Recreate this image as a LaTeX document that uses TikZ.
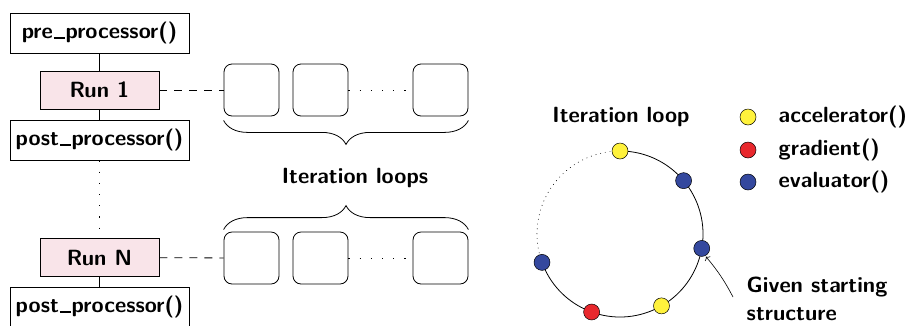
\documentclass[tikz,border=0pt]{standalone}
\usepackage{fix-cm}
\usetikzlibrary{decorations.pathreplacing,arrows.meta}
\definecolor{runpink}{RGB}{249,228,233}
\definecolor{dotyellow}{RGB}{255,242,60}
\definecolor{dotred}{RGB}{232,40,45}
\definecolor{dotblue}{RGB}{52,72,158}
\newcommand{\usc}{\kern0.04em\rule{0.5em}{0.09em}\kern0.04em}

\begin{document}
\begin{tikzpicture}[x=1pt, y=-1pt, line width=0.8pt,
    font={\fontsize{22}{28}\selectfont\sffamily\bfseries},
    stage/.style={draw, minimum width=179pt, minimum height=40pt, inner sep=0pt},
    run/.style={draw, fill=runpink, minimum width=119pt, minimum height=38pt, inner sep=0pt},
    loopbox/.style={draw, rounded corners=8pt, minimum width=55pt, minimum height=52pt, inner sep=0pt},
    dot/.style={circle, draw, line width=0.5pt, minimum size=16pt, inner sep=0pt},
    sparse/.style={dash pattern=on 1.2pt off 10pt},
    link/.style={dash pattern=on 8pt off 7pt},
    bracedown/.style={decorate, decoration={brace, mirror, amplitude=24pt}},
    braceup/.style={decorate, decoration={brace, amplitude=24pt}}]
    \useasboundingbox (0,0) rectangle (912,325);

    % Runs
    \node[stage] (pre) at (99.5,33) {pre\usc processor()};
    \node[run] (run1) at (99.5,90) {Run 1};
    \node[stage] (post1) at (99.5,140) {post\usc processor()};
    \node[run] (runN) at (99.5,257.5) {Run N};
    \node[stage] (postN) at (99.5,307) {post\usc processor()};

    \draw (pre) -- (run1);
    \draw (run1) -- (post1);
    \draw[sparse] (post1) -- (runN);
    \draw (runN) -- (postN);

    % Iteration loops of each run
    \foreach \r/\y in {1/90, N/258} {
        \node[loopbox] (a\r) at (251.5,\y) {};
        \node[loopbox] (b\r) at (320.5,\y) {};
        \node[loopbox] (c\r) at (440.5,\y) {};
        \draw[link] (run\r) -- (a\r);
        \draw[sparse] (b\r) -- (c\r);
    }
    \draw[bracedown] ([yshift=-4pt]a1.south west) -- ([yshift=-4pt]c1.south east);
    \draw[braceup] ([yshift=2pt]aN.north west) -- ([yshift=2pt]cN.north east);
    \node (loops) at (355,178) {Iteration loops};

    % One iteration loop
    \node (looptitle) at (621,117) {Iteration loop};
    \coordinate (loopc) at (620,234);
    \draw (loopc) ++(200:83pt) arc[start angle=200, end angle=450, radius=83pt];
    \draw[line width=0.6pt, dash pattern=on 0.8pt off 4pt] (loopc) ++(90:83pt) arc[start angle=90, end angle=200, radius=83pt];
    \foreach \a/\c/\n in {90/dotyellow/d1, 40/dotblue/d2, -10/dotblue/d3, -60/dotyellow/d4, -110/dotred/d5, 200/dotblue/d6}
        \node[dot, fill=\c] (\n) at ([shift={(\a:83pt)}]loopc) {};

    % Legend
    \node[dot, fill=dotyellow] (kacc) at (748,117) {};
    \node[dot, fill=dotred] (kgrad) at (748,150) {};
    \node[dot, fill=dotblue] (keval) at (748,182) {};
    \node[anchor=west] (lacc) at (775,117) {accelerator()};
    \node[anchor=west] (lgrad) at (775,150) {gradient()};
    \node[anchor=west] (leval) at (775,182) {evaluator()};

    % Start
    \node[anchor=west, align=left] (given) at (743,299) {Given starting\\structure};
    \coordinate (arrowfoot) at (733,297);
    \draw[-{To[length=3pt, width=7pt]}, line width=0.6pt] (arrowfoot) to[bend right=6] ([shift={(-63:1pt)}]d3.-63);
\end{tikzpicture}
\end{document}
